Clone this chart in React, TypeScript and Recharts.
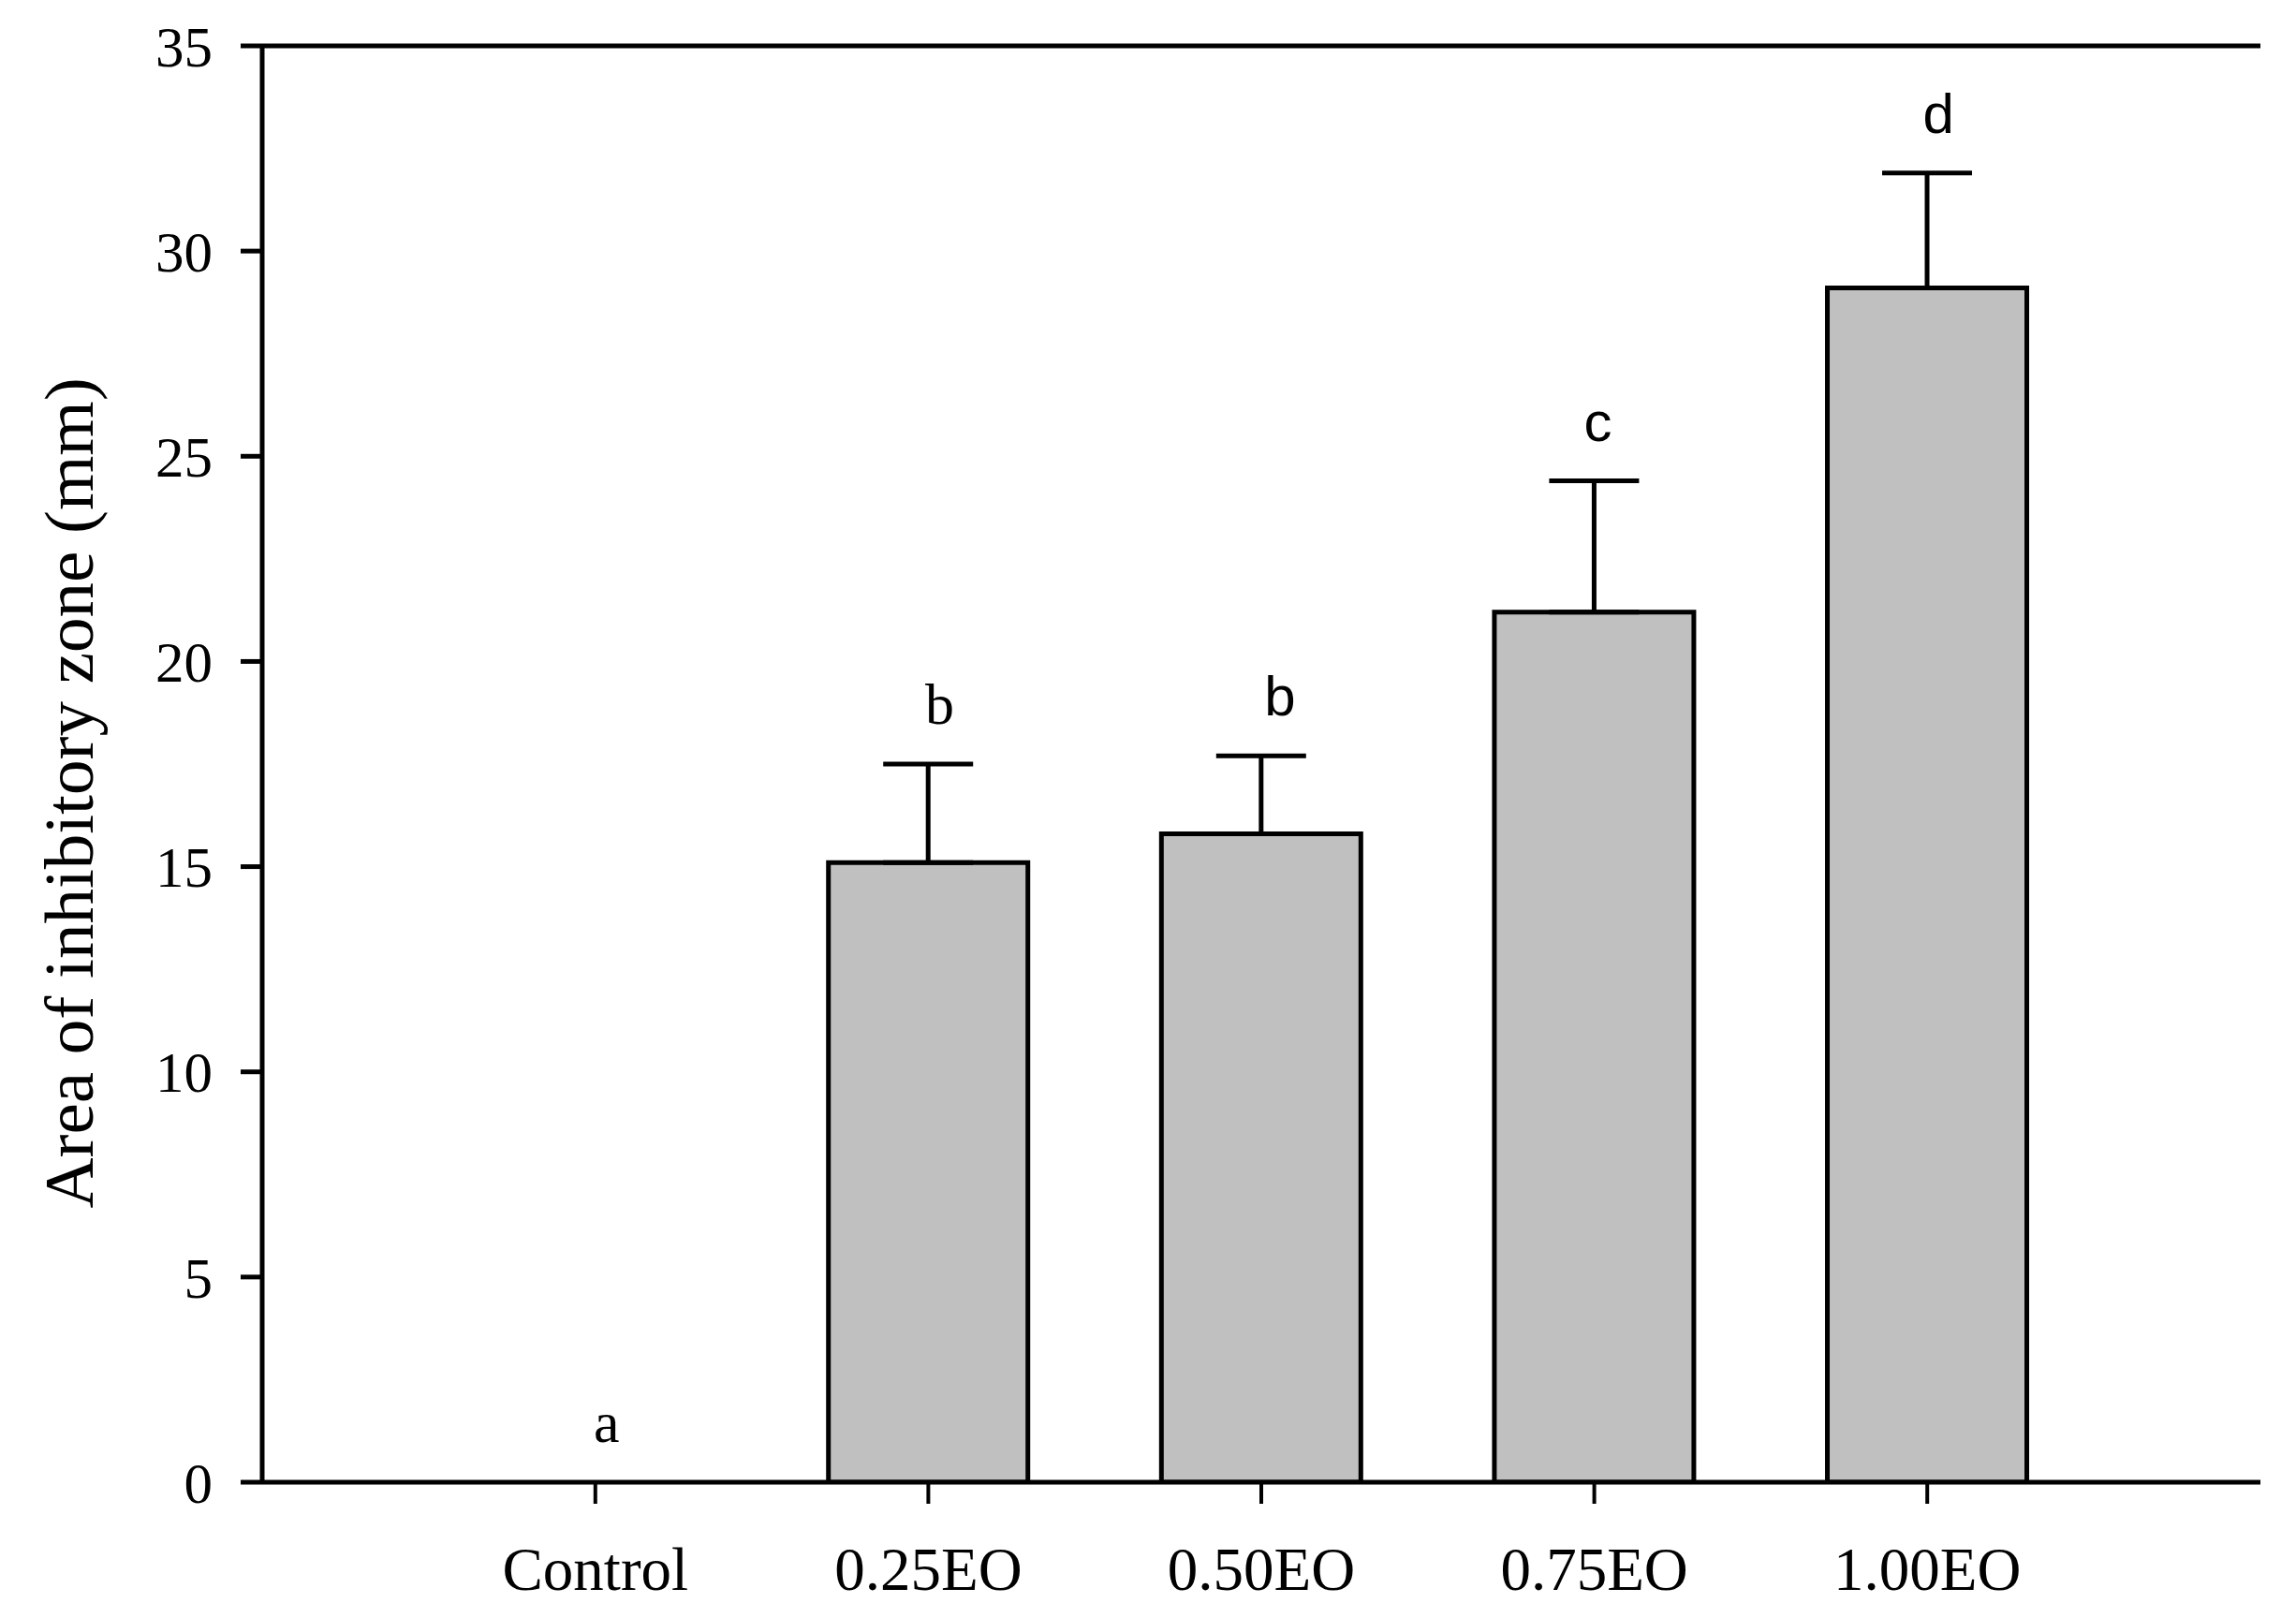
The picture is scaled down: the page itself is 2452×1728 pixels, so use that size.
import React from 'react';
import {
  ComposedChart,
  Bar,
  Line,
  XAxis,
  YAxis,
  ErrorBar,
  LabelList,
  ReferenceLine,
} from 'recharts';

const categories = ['Control', '0.25EO', '0.50EO', '0.75EO', '1.00EO'];
const means = [0, 15.1, 15.8, 21.2, 29.1];
const errors: (number | null)[] = [null, 2.4, 1.9, 3.2, 2.8];
const letters = ['a', 'b', 'b', 'c', 'd'];
const yTicks = [0, 5, 10, 15, 20, 25, 30, 35];
const yTitle = 'Area of inhibitory zone (mm)';

const rows = categories.map((name, i) => ({
  name,
  mean: means[i],
  err: errors[i] == null ? null : [0, errors[i] as number],
  top: means[i] + (errors[i] ?? 0),
  letter: letters[i],
}));

const SERIF = '"Liberation Serif", "Times New Roman", serif';
const SANS = '"Liberation Sans", Arial, sans-serif';

const YTitle = (props: any) => {
  const vb = props.viewBox || {};
  const cx = (vb.x ?? 0) + 73;
  const cy = (vb.y ?? 0) + (vb.height ?? 0) / 2 + 31;
  return (
    <text
      x={cx}
      y={cy}
      transform={`rotate(-90, ${cx}, ${cy})`}
      textAnchor="middle"
      dominantBaseline="central"
      fontFamily={SERIF}
      fontSize={75}
      fill="#000"
    >
      {yTitle}
    </text>
  );
};

const renderLetter = (p: any) => {
  const x = p.x ?? p.viewBox?.x;
  const y = p.y ?? p.viewBox?.y;
  const idx = p.index ?? 0;
  const serif = idx < 2;
  const dx = idx === 2 ? 20 : idx === 3 ? 4 : 12;
  return (
    <text
      x={x + dx}
      y={y - 43}
      textAnchor="middle"
      fontFamily={serif ? SERIF : SANS}
      fontSize={serif ? 62 : 60}
      fill="#000"
    >
      {p.value}
    </text>
  );
};

export default function App() {
  return (
    <div style={{ position: 'absolute', left: 0, top: 0, background: '#fff' }}>
      <ComposedChart
        width={2452}
        height={1728}
        data={rows}
        margin={{ top: 49, right: 38, bottom: 0, left: 0 }}
        barCategoryGap="20%"
      >
        <XAxis
          dataKey="name"
          padding={{ left: 178, right: 178 }}
          height={145}
          interval={0}
          tickSize={23}
          tickMargin={46}
          axisLine={{ stroke: '#000', strokeWidth: 5 }}
          tickLine={{ stroke: '#000', strokeWidth: 4 }}
          tick={{ fontFamily: SERIF, fontSize: 65, fill: '#000' }}
        />
        <YAxis
          domain={[0, 35]}
          ticks={yTicks}
          interval={0}
          width={280}
          tickSize={23}
          tickMargin={30}
          allowDataOverflow
          axisLine={{ stroke: '#000', strokeWidth: 5 }}
          tickLine={{ stroke: '#000', strokeWidth: 5 }}
          tick={{ fontFamily: SERIF, fontSize: 61, fill: '#000' }}
          label={<YTitle />}
        />
        <YAxis
          yAxisId="right"
          orientation="right"
          domain={[0, 35]}
          width={0}
          tick={false}
          tickLine={false}
          axisLine={{ stroke: '#000', strokeWidth: 6 }}
        />
        <ReferenceLine y={35} stroke="#000" strokeWidth={5} />
        <Bar
          dataKey="mean"
          fill="#c0c0c0"
          stroke="#000"
          strokeWidth={5}
          isAnimationActive={false}
        >
          <ErrorBar
            dataKey="err"
            direction="y"
            width={48}
            stroke="#000"
            strokeWidth={5}
            isAnimationActive={false}
          />
        </Bar>
        <Line
          dataKey="top"
          stroke="none"
          dot={false}
          activeDot={false}
          legendType="none"
          isAnimationActive={false}
        >
          <LabelList dataKey="letter" content={renderLetter} />
        </Line>
      </ComposedChart>
    </div>
  );
}
